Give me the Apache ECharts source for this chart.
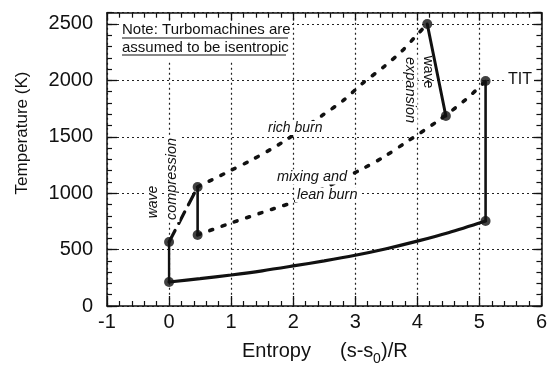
<!DOCTYPE html>
<html><head><meta charset="utf-8">
<script src="https://cdn.jsdelivr.net/npm/echarts@6/dist/echarts.min.js"></script>
<style>html,body{margin:0;padding:0;background:#fff}#c{width:550px;height:369px}</style>
</head><body><div id="c"></div>
<script>
// ---- data ----
const xTicks = [-1, 0, 1, 2, 3, 4, 5, 6];
const yTicks = [0, 500, 1000, 1500, 2000, 2500];
// state points
const stateS = [0, 0, 0.46, 0.46, 4.16, 4.46, 5.1, 5.1];
const stateT = [213, 567, 1055, 630, 2500, 1684, 1995, 754];
// low-pressure heat-rejection curve
const curveS = [0, 0.5, 1, 1.5, 2, 2.5, 3, 3.5, 4, 4.5, 5.1];
const curveT = [213, 242, 275, 312, 355, 400, 450, 508, 575, 650, 754];
// rich burn
const richS = [0.46, 0.97, 1.33, 1.65, 1.81, 2.47, 2.82, 3.11, 3.47, 3.76, 3.98, 4.16];
const richT = [1055, 1195, 1294, 1392, 1445, 1690, 1828, 1970, 2125, 2265, 2395, 2500];
// mixing and lean burn
const leanS = [0.46, 1.02, 1.70, 2.0, 2.5, 3.14, 3.47, 3.82, 4.32, 4.78, 5.1];
const leanT = [630, 740, 865, 920, 1045, 1223, 1325, 1452, 1636, 1830, 1995];
// wave compression / expansion, vertical legs
const compS = [0, 0.46], compT = [567, 1055];
const expS = [4.16, 4.46], expT = [2500, 1684];
const leg1S = [0, 0], leg1T = [213, 567];
const leg2S = [0.46, 0.46], leg2T = [1055, 630];
const titS = [5.1, 5.1], titT = [1995, 754];

const zip = (a, b) => a.map((v, i) => [v, b[i]]);
const INK = '#111';
const FONT = 'Liberation Sans, Arial, Helvetica, sans-serif';

const chart = echarts.init(document.getElementById('c'), null, {renderer: 'canvas'});

const gridLine = {show: true, lineStyle: {color: '#222', type: [2, 3], width: 1.2}};
const axLine = {show: true, onZero: false, lineStyle: {color: INK, width: 1.5}};
const noLine = {show: false, onZero: false};

function lineSeries(data, type, width, smooth) {
  return {
    type: 'line', data: data, xAxisIndex: 0, yAxisIndex: 0,
    showSymbol: false, symbol: 'none', smooth: smooth || false,
    lineStyle: {color: INK, width: width, type: type, cap: 'round'},
    z: 3, silent: true, animation: false
  };
}

function txt(x, y, text, size, opts) {
  opts = opts || {};
  return {type: 'text', z: 5, x: x, y: y, rotation: opts.rot || 0,
    style: {text: text, fontSize: size, fontFamily: FONT, fontStyle: opts.italic ? 'italic' : 'normal',
      fill: INK, align: opts.align || 'left', verticalAlign: 'middle',
      backgroundColor: opts.bg ? '#fff' : null, padding: opts.bg ? [0, 2, 0, 2] : 0}};
}

const option = {
  backgroundColor: '#fff',
  animation: false,
  grid: {left: 107, right: 7.5, top: 12.7, bottom: 63, containLabel: false},
  xAxis: [
    {type: 'value', min: xTicks[0], max: xTicks[xTicks.length - 1], interval: 1, position: 'bottom',
     axisLine: axLine,
     axisTick: {show: true, inside: true, length: 10, lineStyle: {color: INK, width: 1.3}},
     minorTick: {show: true, splitNumber: 5, length: 5, lineStyle: {color: INK, width: 1.2}},
     axisLabel: {color: INK, fontSize: 20, fontFamily: FONT, margin: 6},
     splitLine: gridLine},
    {type: 'value', min: xTicks[0], max: xTicks[xTicks.length - 1], interval: 1, position: 'top',
     axisLine: axLine,
     axisTick: {show: true, inside: true, length: 8, lineStyle: {color: INK, width: 1.3}},
     minorTick: {show: true, splitNumber: 5, length: 5, lineStyle: {color: INK, width: 1.2}},
     axisLabel: {show: false}, splitLine: {show: false}}
  ],
  yAxis: [
    {type: 'value', min: 0, max: 2600, interval: 500, position: 'left',
     axisLine: axLine,
     axisTick: {show: true, inside: true, length: 10, lineStyle: {color: INK, width: 1.3}},
     axisLabel: {color: INK, fontSize: 20, fontFamily: FONT, margin: 14, showMaxLabel: false,
                 padding: [0, 0, 13, 0],
                 formatter: v => (yTicks.indexOf(v) >= 0 ? String(v) : '')},
     splitLine: gridLine},
    {type: 'value', min: 0, max: 2600, interval: 500, position: 'right',
     axisLine: axLine,
     axisTick: {show: true, inside: true, length: 8, lineStyle: {color: INK, width: 1.3}},
     axisLabel: {show: false}, splitLine: {show: false}},
    {type: 'value', min: 0, max: 2600, interval: 100, position: 'left', offset: 0,
     axisLine: noLine,
     axisTick: {show: true, inside: true, length: 5, lineStyle: {color: INK, width: 1.2}},
     axisLabel: {show: false}, splitLine: {show: false}},
    {type: 'value', min: 0, max: 2600, interval: 100, position: 'right', offset: 0,
     axisLine: noLine,
     axisTick: {show: true, inside: true, length: 5, lineStyle: {color: INK, width: 1.2}},
     axisLabel: {show: false}, splitLine: {show: false}}
  ],
  series: [
    lineSeries(zip(curveS, curveT), 'solid', 3.2, 0.3),
    lineSeries(zip(leg1S, leg1T), 'solid', 2.4),
    lineSeries(zip(compS, compT), [13, 8], 3.2),
    lineSeries(zip(leg2S, leg2T), 'solid', 2.6),
    lineSeries(zip(richS, richT), [3, 10], 3.6, 0.3),
    lineSeries(zip(expS, expT), 'solid', 3),
    lineSeries(zip(leanS, leanT), [3, 10], 3.6, 0.3),
    lineSeries(zip(titS, titT), 'solid', 2.6),
    {type: 'scatter', data: zip(stateS, stateT), symbol: 'circle', symbolSize: 10,
     itemStyle: {color: INK}, z: 4, silent: true}
  ],
  graphic: [
    {type: 'rect', z: 1, shape: {x: 119, y: 22, width: 172, height: 39}, style: {fill: '#fff'}, silent: true},
    txt(122, 30, 'Note: Turbomachines are', 15),
    txt(122, 47.5, 'assumed to be isentropic', 15),
    {type: 'line', z: 5, shape: {x1: 122, y1: 38, x2: 288, y2: 38}, style: {stroke: INK, lineWidth: 1.2}},
    {type: 'line', z: 5, shape: {x1: 122, y1: 55, x2: 286, y2: 55}, style: {stroke: INK, lineWidth: 1.2}},
    txt(266, 128, 'rich burn', 14, {italic: true, bg: true}),
    txt(275, 177, 'mixing and', 14.5, {italic: true, bg: true}),
    txt(295, 195, 'lean burn', 14.5, {italic: true, bg: true}),
    txt(153, 202, 'wave', 14, {italic: true, align: 'center', rot: Math.PI / 2, bg: true}),
    txt(172, 179, 'compression', 14.5, {italic: true, align: 'center', rot: Math.PI / 2, bg: true}),
    txt(428, 72, 'wave', 14, {align: 'center', rot: -Math.PI / 2}),
    txt(410, 90, 'expansion', 14.5, {italic: true, align: 'center', rot: -Math.PI / 2, bg: true}),
    txt(506, 80, 'TIT', 16, {bg: true}),
    txt(22, 133, 'Temperature (K)', 17, {align: 'center', rot: Math.PI / 2}),
    txt(242, 351, 'Entropy', 20),
    txt(340, 351, '(s-s', 20),
    txt(373, 359, '0', 14),
    txt(381, 351, ')/R', 20)
  ]
};
chart.setOption(option);
</script>
</body></html>
